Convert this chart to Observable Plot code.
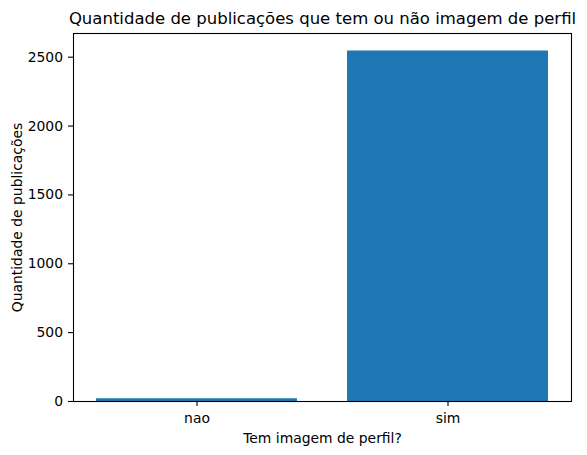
<!DOCTYPE html>
<html>
<head>
<meta charset="utf-8">
<script src="https://cdn.jsdelivr.net/npm/d3@7"></script>
<script src="https://cdn.jsdelivr.net/npm/@observablehq/plot@0.6"></script>
<style>
  html, body { margin: 0; padding: 0; background: #fff; }
  svg { display: block; }
</style>
</head>
<body>
<div id="chart"></div>
<script>
const categories = ["nao", "sim"];
const counts = [20, 2545];
const yTicks = [0, 500, 1000, 1500, 2000, 2500];
const titleText = "Quantidade de publicações que tem ou não imagem de perfil";
const xLabel = "Tem imagem de perfil?";
const yLabel = "Quantidade de publicações";

const data = categories.map((c, i) => ({cat: c, n: counts[i]}));
const W = 587, H = 455;
const mL = 73, mR = 16, mT = 33, mB = 54;
const font = "DejaVu Sans, sans-serif";

const chart = Plot.plot({
  width: W,
  height: H,
  marginLeft: mL,
  marginRight: mR,
  marginTop: mT,
  marginBottom: mB,
  style: {fontFamily: font, background: "#fff", color: "#000"},
  x: {domain: categories, paddingInner: 0.2, paddingOuter: 0.09, label: null},
  y: {domain: [0, 2672], label: null},
  marks: [
    Plot.barY(data, {x: "cat", y: "n", fill: "#1f77b4"}),
    Plot.axisY({ticks: yTicks, tickFormat: d => String(d), tickSize: 5, tickPadding: 5.5, fontSize: 13.9, stroke: "#000", strokeWidth: 1.1, label: null}),
    Plot.axisX({tickSize: 5, tickPadding: 7, fontSize: 13.9, stroke: "#000", strokeWidth: 1.1, label: null}),
    Plot.frame({stroke: "#000", strokeWidth: 1.1}),
    Plot.text([titleText], {frameAnchor: "top", dy: -mT + 12, fontSize: 16.5, lineAnchor: "top", fill: "#000"}),
    Plot.text([xLabel], {frameAnchor: "bottom", dy: 32, fontSize: 13.9, lineAnchor: "top", fill: "#000"}),
    Plot.text([yLabel], {frameAnchor: "left", dx: -56, rotate: -90, fontSize: 13.9, textAnchor: "middle", lineAnchor: "middle", fill: "#000"})
  ]
});
document.getElementById("chart").appendChild(chart);
</script>
</body>
</html>
